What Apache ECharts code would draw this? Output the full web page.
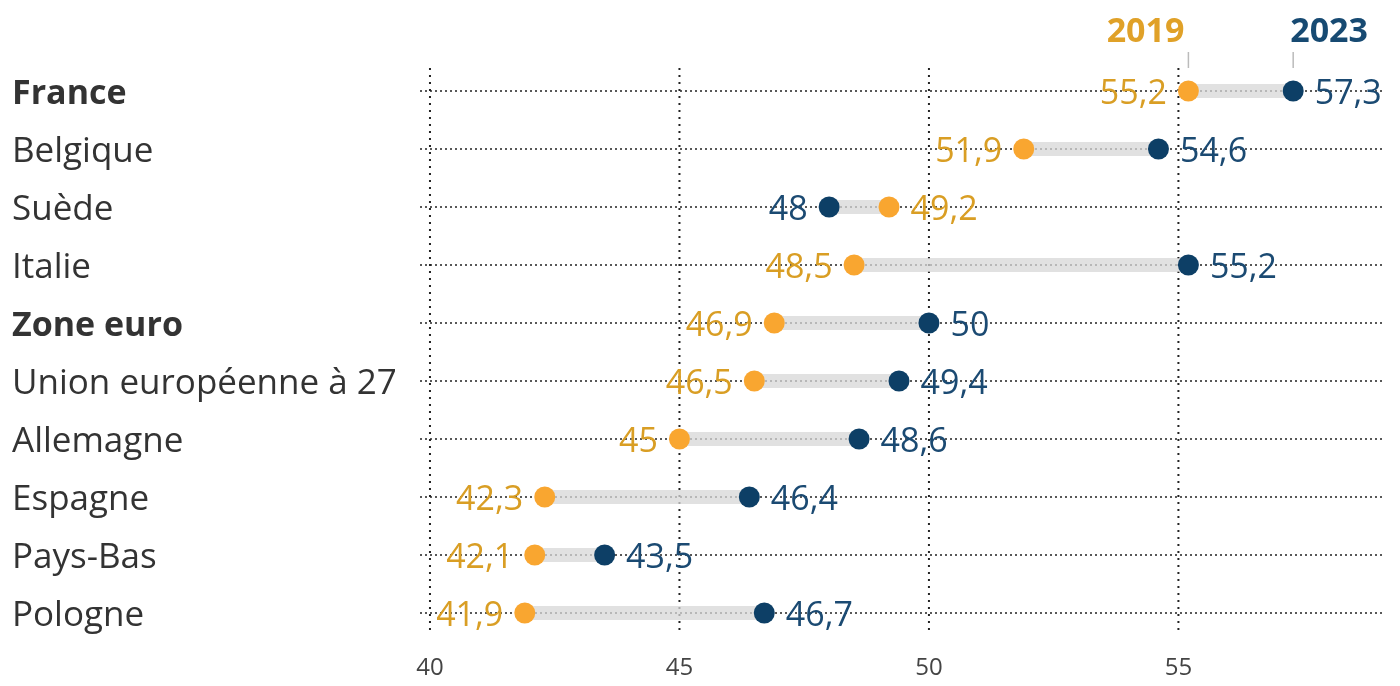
<!DOCTYPE html>
<html>
<head>
<meta charset="utf-8">
<script src="https://cdn.jsdelivr.net/npm/echarts@6/dist/echarts.min.js"></script>
<style>
html,body{margin:0;padding:0;background:#fff;}
#main{width:1400px;height:686px;}
</style>
</head>
<body>
<div id="main"></div>
<script>
const categories = ['France','Belgique','Suède','Italie','Zone euro','Union européenne à 27','Allemagne','Espagne','Pays-Bas','Pologne'];
const boldCategories = ['France','Zone euro'];
const values2019 = [55.2,51.9,49.2,48.5,46.9,46.5,45,42.3,42.1,41.9];
const values2023 = [57.3,54.6,48,55.2,50,49.4,48.6,46.4,43.5,46.7];
const seriesNames = ['2019','2023'];
const xTicks = [40,45,50,55];

const X_MIN = 39.8, X_MAX = 59.1;
const ORANGE = '#F9A630', ORANGE_TXT = '#D99E24';
const NAVY = '#0D3F66', NAVY_TXT = '#1B4A72';
const FONT = '"Open Sans", Lato, sans-serif';

const fmt = v => String(v).replace('.', ',');

const chart = echarts.init(document.getElementById('main'), null, {renderer:'canvas'});

const d2019 = values2019.map((v,i)=>({
  value:[v, categories[i]],
  label:{position: v <= values2023[i] ? 'left' : 'right'}
}));
const d2023 = values2023.map((v,i)=>({
  value:[v, categories[i]],
  label:{position: v >= values2019[i] ? 'right' : 'left'}
}));

const option = {
  animation:false,
  backgroundColor:'#fff',
  grid:{left:420, right:17, top:62, bottom:44, containLabel:false},
  xAxis:{
    type:'value', min:X_MIN, max:X_MAX, interval:5,
    axisLine:{show:false}, axisTick:{show:false},
    axisLabel:{
      fontFamily:FONT, fontSize:24, color:'#444', margin:14,
      customValues: xTicks,
      formatter: v => String(v)
    },
    splitLine:{show:false}
  },
  yAxis:{
    type:'category', data:categories, inverse:true,
    axisLine:{show:false}, axisTick:{show:false}, splitLine:{show:false},
    axisLabel:{
      align:'left', margin:408, fontFamily:FONT, fontSize:35, color:'#333',
      padding:[6,0,0,0],
      formatter: v => boldCategories.includes(v) ? '{b|'+v+'}' : v,
      rich:{b:{fontWeight:'bold', fontFamily:FONT, fontSize:34, color:'#333'}}
    }
  },
  series:[
    {
      type:'custom', silent:true, z:1,
      data: xTicks.map(t=>[t]),
      renderItem:(params, api)=>{
        const x = api.coord([api.value(0), categories[0]])[0];
        const top = api.coord([api.value(0), categories[0]])[1] - 23;
        const bot = api.coord([api.value(0), categories[categories.length-1]])[1] + 22;
        return {type:'line', shape:{x1:x, y1:top, x2:x, y2:bot},
          style:{stroke:'#222', lineWidth:2, lineDash:[2,5]}};
      }
    },
    {
      type:'custom', silent:true, z:1,
      data: categories.map(c=>[c]),
      renderItem:(params, api)=>{
        const c = categories[params.dataIndex];
        const p1 = api.coord([X_MIN, c]);
        const p2 = api.coord([X_MAX, c]);
        return {type:'line', shape:{x1:p1[0], y1:p1[1], x2:p2[0], y2:p2[1]},
          style:{stroke:'#222', lineWidth:1.6, lineDash:[2,3]}};
      }
    },
    {
      type:'custom', silent:true, z:2,
      data: categories.map((c,i)=>[values2019[i], values2023[i], c]),
      renderItem:(params, api)=>{
        const c = categories[params.dataIndex];
        const a = api.coord([api.value(0), c]);
        const b = api.coord([api.value(1), c]);
        const x1 = Math.min(a[0], b[0]), x2 = Math.max(a[0], b[0]);
        return {type:'rect', shape:{x:x1, y:a[1]-7, width:x2-x1, height:14},
          style:{fill:'rgba(215,215,215,0.75)'}};
      }
    },
    {
      type:'custom', silent:true, z:3,
      data: [[values2019[0], values2023[0]]],
      renderItem:(params, api)=>{
        const a = api.coord([api.value(0), categories[0]]);
        const b = api.coord([api.value(1), categories[0]]);
        return {type:'group', children:[
          {type:'line', shape:{x1:a[0], y1:a[1]-39, x2:a[0], y2:a[1]-23}, style:{stroke:'#bbb', lineWidth:1.5}},
          {type:'line', shape:{x1:b[0], y1:b[1]-39, x2:b[0], y2:b[1]-23}, style:{stroke:'#bbb', lineWidth:1.5}},
          {type:'text', x:a[0]-4, y:a[1]-42, style:{text:seriesNames[0], fill:'#E0A128', font:'bold 34px '+FONT, textAlign:'right', textVerticalAlign:'bottom'}},
          {type:'text', x:b[0]-3, y:b[1]-42, style:{text:seriesNames[1], fill:'#174A72', font:'bold 34px '+FONT, textAlign:'left', textVerticalAlign:'bottom'}}
        ]};
      }
    },
    {
      name:seriesNames[0], type:'scatter', z:5, symbolSize:21,
      itemStyle:{color:ORANGE, opacity:1},
      data:d2019,
      label:{show:true, distance:11, fontFamily:FONT, fontSize:34, color:ORANGE_TXT,
        offset:[0,3], formatter:p=>fmt(p.value[0])}
    },
    {
      name:seriesNames[1], type:'scatter', z:5, symbolSize:21,
      itemStyle:{color:NAVY, opacity:1},
      data:d2023,
      label:{show:true, distance:11, fontFamily:FONT, fontSize:34, color:NAVY_TXT,
        offset:[0,3], formatter:p=>fmt(p.value[0])}
    }
  ]
};
chart.setOption(option);
</script>
</body>
</html>
